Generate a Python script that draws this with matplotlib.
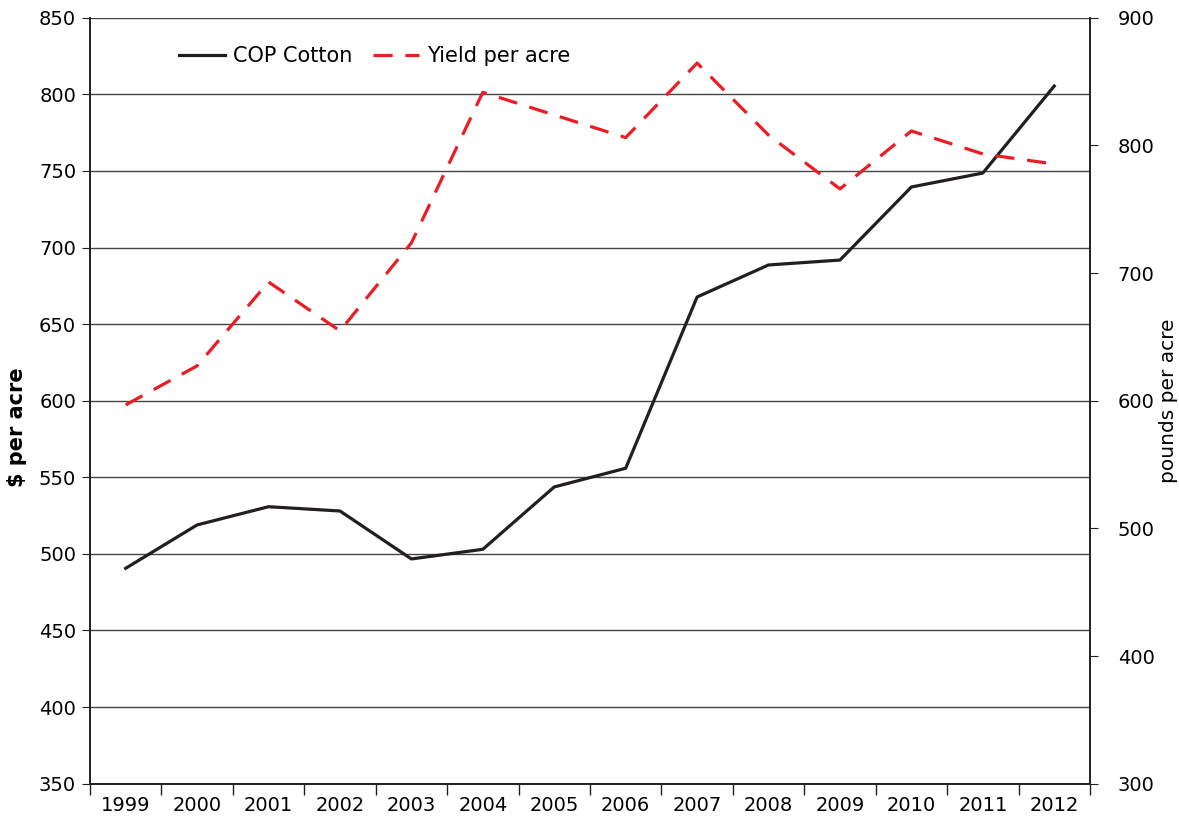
import numpy as np
import matplotlib
matplotlib.use("Agg")
import matplotlib.pyplot as plt

## Data
years = ['1999', '2000', '2001', '2002', '2003', '2004', '2005',
         '2006', '2007', '2008', '2009', '2010', '2011', '2012']
cop_cotton = [490.6, 518.9, 530.8, 528.0, 496.7, 503.0, 543.7,
              555.9, 667.7, 688.6, 691.8, 739.5, 748.6, 805.4]
yield_per_acre = [596.7, 627.3, 693.0, 654.7, 723.6, 841.6, 823.8,
                  806.1, 864.5, 808.0, 765.9, 811.3, 793.3, 785.4]

plt.rcParams['font.family'] = ['DejaVu Sans']
plt.rcParams['font.size'] = 14

fig = plt.figure(figsize=(11.79, 8.16), dpi=100)
ax = fig.add_axes([0.0763, 0.0396, 0.8482, 0.9387])
ax2 = ax.twinx()

x = np.arange(len(years))

## Grid lines on the left scale
ax.set_ylim(350, 850)
ax.set_yticks(np.arange(350, 851, 50))
ax.yaxis.grid(True, color='#444444', linewidth=1.0)
ax.set_axisbelow(True)

l1, = ax.plot(x, cop_cotton, color='#231f20', linewidth=2.3,
              label='COP Cotton', zorder=3)
l2, = ax2.plot(x, yield_per_acre, color='#ed1c24', linewidth=2.3,
               dashes=(6, 4), label='Yield per acre', zorder=3)

ax.set_xlim(-0.5, len(years) - 0.5)
ax.set_xticks(x)
ax.set_xticklabels(years)
ax.set_xticks(np.arange(-0.5, len(years), 1), minor=True)
ax.tick_params(axis='x', which='major', length=0, pad=9)
ax.tick_params(axis='x', which='minor', length=8, direction='out',
               color='#231f20', width=1)
ax.tick_params(axis='y', length=6, direction='out', color='#231f20', pad=4)

ax2.set_ylim(300, 900)
ax2.set_yticks(np.arange(300, 901, 100))
ax2.tick_params(axis='y', length=6, direction='out', color='#231f20',
                pad=14, labelsize=14)

for a in (ax, ax2):
    a.spines['top'].set_visible(False)
    for s in ('left', 'right', 'bottom'):
        a.spines[s].set_color('#231f20')
        a.spines[s].set_linewidth(1.2)

ax.set_ylabel('$ per acre', fontweight='bold', fontsize=15)
ax.yaxis.set_label_coords(-0.063, 0.465)
ax2.set_ylabel('pounds per acre', fontsize=14.5)
ax2.yaxis.set_label_coords(1.069, 0.5)

ax.legend(handles=[l1, l2], loc='center left', bbox_to_anchor=(0.07, 0.95),
          ncol=2, frameon=False, fontsize=15, handlelength=2.2,
          columnspacing=1.0, handletextpad=0.4)

fig.savefig('out.png', dpi=100)
